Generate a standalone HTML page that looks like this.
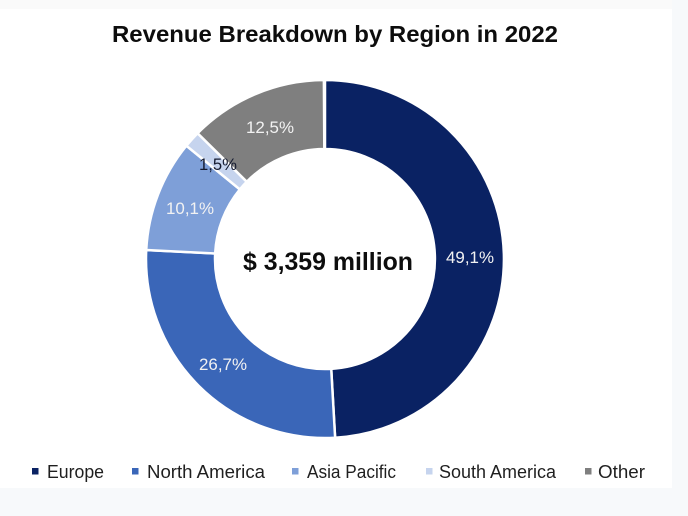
<!DOCTYPE html>
<html>
<head>
<meta charset="utf-8">
<style>
  html, body { margin: 0; padding: 0; }
  body { width: 688px; height: 516px; overflow: hidden; background: #f7f9fb; }
  svg { display: block; }
  text { font-family: "Liberation Sans", Arial, sans-serif; }
</style>
</head>
<body>
<svg width="688" height="516" viewBox="0 0 688 516" xmlns="http://www.w3.org/2000/svg">
  <!-- backgrounds -->
  <rect x="0" y="0" width="688" height="516" fill="#f7f9fb"/>
  <rect x="0" y="0" width="672" height="9" fill="#fafafa"/>
  <rect x="0" y="9" width="672" height="479" fill="#ffffff"/>

  <!-- title -->
  <text x="112" y="42" font-size="23" font-weight="bold" fill="#0d0d0d" textLength="446" lengthAdjust="spacingAndGlyphs">Revenue Breakdown by Region in 2022</text>

  <!-- donut -->
  <g stroke="#ffffff" stroke-width="2.5" stroke-linejoin="miter">
    <path d="M325,80 A179,179 0 0 1 335.12,437.71 L331.22,368.82 A110,110 0 0 0 325,149 Z" fill="#0a2263"/>
    <path d="M335.12,437.71 A179,179 0 0 1 146.23,250.01 L215.14,253.47 A110,110 0 0 0 331.22,368.82 Z" fill="#3a66b8"/>
    <path d="M146.23,250.01 A179,179 0 0 1 186.38,145.75 L239.82,189.40 A110,110 0 0 0 215.14,253.47 Z" fill="#7e9fd8"/>
    <path d="M186.38,145.75 A179,179 0 0 1 197.62,133.22 L246.72,181.70 A110,110 0 0 0 239.82,189.40 Z" fill="#c6d4ee"/>
    <path d="M197.62,133.22 A179,179 0 0 1 323.88,80 L324.31,149 A110,110 0 0 0 246.72,181.70 Z" fill="#7f7f7f"/>
  </g>

  <!-- slice labels -->
  <g font-size="17" text-anchor="middle">
    <text x="470" y="263" fill="#f2f2f2" textLength="48" lengthAdjust="spacingAndGlyphs">49,1%</text>
    <text x="223" y="370" fill="#f2f2f2" textLength="48" lengthAdjust="spacingAndGlyphs">26,7%</text>
    <text x="190" y="214" fill="#f2f2f2" textLength="48" lengthAdjust="spacingAndGlyphs">10,1%</text>
    <text x="218" y="170" fill="#141a30" textLength="38" lengthAdjust="spacingAndGlyphs">1,5%</text>
    <text x="270" y="133" fill="#f2f2f2" textLength="48" lengthAdjust="spacingAndGlyphs">12,5%</text>
  </g>

  <!-- center text -->
  <text x="243" y="270" font-size="25" font-weight="bold" fill="#0d0d0d" textLength="170" lengthAdjust="spacingAndGlyphs">$ 3,359 million</text>

  <!-- legend -->
  <g font-size="18.5" fill="#1f1f1f">
    <rect x="32" y="468" width="6.5" height="6.5" fill="#0a2263"/>
    <text x="47" y="478" textLength="57" lengthAdjust="spacingAndGlyphs">Europe</text>

    <rect x="132" y="468" width="6.5" height="6.5" fill="#3a66b8"/>
    <text x="147" y="478" textLength="118" lengthAdjust="spacingAndGlyphs">North America</text>

    <rect x="292" y="468" width="6.5" height="6.5" fill="#7e9fd8"/>
    <text x="307" y="478" textLength="89" lengthAdjust="spacingAndGlyphs">Asia Pacific</text>

    <rect x="426" y="468" width="6.5" height="6.5" fill="#c6d4ee"/>
    <text x="439" y="478" textLength="117" lengthAdjust="spacingAndGlyphs">South America</text>

    <rect x="585" y="468" width="6.5" height="6.5" fill="#7f7f7f"/>
    <text x="598" y="478" textLength="47" lengthAdjust="spacingAndGlyphs">Other</text>
  </g>
</svg>
</body>
</html>
